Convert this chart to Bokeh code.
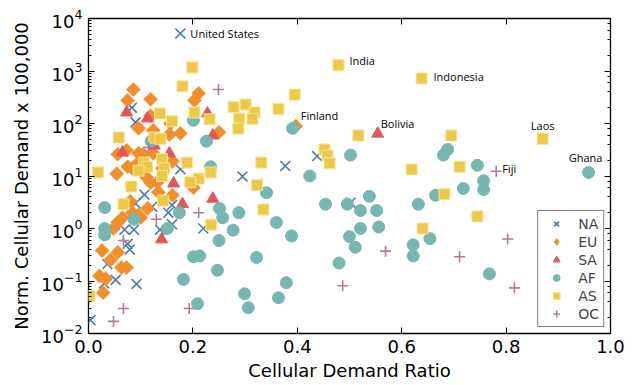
import math
from bokeh.plotting import figure
from bokeh.models import (ColumnDataSource, LogAxis, LinearAxis, FixedTicker, LogTicker,
                          PrintfTickFormatter, CustomJSTickFormatter, Legend, LegendItem, Range1d)
from bokeh.core.properties import value
from bokeh.embed import file_html
from bokeh.resources import INLINE

# ---------------- data ----------------
na_x = [0.176, 0.083, 0.090, 0.107, 0.176, 0.295, 0.377, 0.438, 0.502, 0.090, 0.122, 0.153,
        0.160, 0.160, 0.137, 0.069, 0.087, 0.075, 0.079, 0.036, 0.052, 0.092, 0.030, 0.004, 0.220]
na_y = [5200, 200, 105, 4.4, 13.5, 9.8, 15.5, 24, 3.1, 3.0, 2.6, 2.0,
        2.8, 1.2, 0.95, 0.95, 0.95, 0.51, 0.40, 0.21, 0.105, 0.088, 0.09, 0.018, 1.0]

eu_x = [0.086, 0.075, 0.119, 0.211, 0.203, 0.119, 0.096, 0.124, 0.157, 0.155, 0.176, 0.250, 0.397,
        0.056, 0.073, 0.096, 0.105, 0.124,
        0.054, 0.075, 0.084, 0.092, 0.111, 0.142, 0.161,
        0.132, 0.134, 0.161, 0.201, 0.119,
        0.080, 0.084, 0.096, 0.100, 0.113, 0.065, 0.056, 0.048,
        0.026, 0.056, 0.042, 0.063, 0.073, 0.021, 0.033, 0.028]
eu_y = [445, 275, 290, 375, 275, 140, 81, 74, 100, 62, 65, 68, 89,
        26, 31, 27, 26, 27,
        11, 15, 14, 16.5, 9.5, 14, 19,
        7.6, 4.9, 4.3, 6.0, 7.5,
        3.3, 2.0, 1.8, 1.6, 2.4, 1.6, 1.3, 1.0,
        0.38, 0.35, 0.25, 0.18, 0.18, 0.125, 0.11, 0.06]

sa_x = [0.073, 0.113, 0.228, 0.238, 0.065, 0.126, 0.155, 0.163, 0.180, 0.238, 0.140, 0.554]
sa_y = [162, 125, 155, 59, 28, 38, 27, 7.2, 2.9, 3.7, 0.62, 64]

af_x = [0.201, 0.226, 0.234, 0.391, 0.424, 0.341, 0.120,
        0.502, 0.538, 0.680, 0.688, 0.745, 0.757, 0.757, 0.718, 0.665, 0.958,
        0.454, 0.496, 0.521, 0.552, 0.521, 0.556, 0.500, 0.511, 0.480, 0.632, 0.622, 0.622, 0.654, 0.768,
        0.360, 0.389, 0.379, 0.364,
        0.031, 0.031, 0.031, 0.087, 0.174, 0.151, 0.251, 0.257, 0.288, 0.277, 0.250, 0.201, 0.213,
        0.247, 0.322, 0.182, 0.209, 0.299, 0.306]
af_y = [115, 46, 15, 81, 10, 4.8, 46,
        25, 4.1, 25, 32, 16, 8.1, 5.5, 5.8, 4.3, 11.7,
        2.9, 2.9, 2.2, 2.2, 1.0, 1.07, 0.70, 0.44, 0.22, 2.9, 0.49, 0.30, 0.64, 0.137,
        1.3, 0.72, 0.093, 0.048,
        2.5, 1.0, 0.76, 1.5, 2.0, 1.0, 2.4, 1.6, 2.0, 0.93, 0.59, 0.29, 0.30,
        0.16, 0.28, 0.107, 0.037, 0.057, 0.031]

as_x = [0.199, 0.180, 0.203, 0.232, 0.137, 0.160, 0.278, 0.301, 0.318, 0.314, 0.289, 0.287, 0.364,
        0.395, 0.058, 0.126, 0.138, 0.018, 0.106, 0.112, 0.096, 0.141, 0.145, 0.141, 0.189, 0.234,
        0.211, 0.195, 0.331, 0.323, 0.082,
        0.479, 0.638, 0.517, 0.695, 0.870, 0.452, 0.458, 0.462, 0.619, 0.711, 0.682, 0.745, 0.640,
        0.067, 0.143, 0.335, 0.235, 0.002]
as_y = [1170, 510, 162, 120, 155, 110, 205, 230, 162, 123, 123, 80, 190,
        355, 54, 54, 51, 11.7, 18, 15, 12.6, 21, 14, 10, 18, 11.7,
        8.9, 7.6, 18, 6.7, 6.3,
        1290, 720, 59, 59, 51, 32, 24.5, 17.4, 13.3, 15, 4.5, 1.7, 1.0,
        2.9, 3.4, 2.3, 1.18, 0.052]

oc_x = [0.249, 0.115, 0.781, 0.569, 0.711, 0.803, 0.487, 0.816, 0.067, 0.130, 0.211, 0.067, 0.048, 0.193]
oc_y = [445, 35, 12.3, 0.37, 0.29, 0.63, 0.081, 0.074, 0.59, 1.5, 2.0, 0.03, 0.017, 0.03]

ann_text = ["United States", "India", "Indonesia", "Finland", "Bolivia", "Laos", "Ghana", "Fiji"]
ann_x = [0.176, 0.479, 0.638, 0.397, 0.554, 0.870, 0.958, 0.781]
ann_y = [5200, 1290, 720, 89, 64, 51, 11.7, 12.3]

x_ticks = [0.0, 0.2, 0.4, 0.6, 0.8, 1.0]
# -------------- styles --------------
ann_dx = [10, 11, 12, 5, 3, 0, -3, 6]
ann_dy = [0, -5, -2, -11, -10, -13, -15, -3]
ann_align = ["left", "left", "left", "left", "left", "center", "center", "left"]

TICK_FONT = "DejaVu Sans"

p = figure(width=635, height=385, x_range=Range1d(0, 1), y_range=Range1d(1e-2, 1e4),
           y_axis_type="log", output_backend="svg", toolbar_location=None,
           min_border_left=88, min_border_right=25, min_border_top=18, min_border_bottom=52)
p.grid.visible = False
p.outline_line_color = "black"
p.outline_line_width = 1.3
p.background_fill_color = "white"
p.border_fill_color = "white"

xa = p.xaxis[0]
xa.ticker = FixedTicker(ticks=x_ticks)
xa.formatter = PrintfTickFormatter(format="%.1f")
ya = p.yaxis[0]
for ax in (xa, ya):
    ax.axis_line_color = None
    ax.major_tick_in = 6
    ax.major_tick_out = 0
    ax.minor_tick_in = 3
    ax.minor_tick_out = 0
    ax.major_label_text_font = TICK_FONT
    ax.major_label_text_font_size = "18px"
    ax.major_label_text_color = "black"
    ax.axis_label_text_font = TICK_FONT
    ax.axis_label_text_font_size = "18px"
    ax.axis_label_text_font_style = "normal"
    ax.axis_label_text_color = "black"
xa.minor_tick_line_color = None
xa.axis_label = "Cellular Demand Ratio"
ya.axis_label = "Norm. Cellular Demand x 100,000"
xa.major_label_standoff = 6
ya.major_label_standoff = 6
xa.axis_label_standoff = 4
ya.axis_label_standoff = 6

blank = CustomJSTickFormatter(code="return ''")
ra = LogAxis(ticker=LogTicker(), formatter=blank, axis_line_color=None,
             major_tick_in=6, major_tick_out=0, minor_tick_in=3, minor_tick_out=0)
ta = LinearAxis(ticker=FixedTicker(ticks=x_ticks), formatter=blank, axis_line_color=None,
                major_tick_in=6, major_tick_out=0, minor_tick_line_color=None)
p.add_layout(ra, "right")
p.add_layout(ta, "above")

C_NA, C_EU, C_SA, C_AF, C_AS, C_OC = "#4E79A7", "#F28E2B", "#E15759", "#76B7B2", "#EDC948", "#B07AA1"

r_na = p.scatter(na_x, na_y, marker="x", size=14, line_color=C_NA, line_width=1.6)
r_eu = p.scatter(eu_x, eu_y, marker="square", angle=math.pi / 4, size=10,
                 fill_color=C_EU, line_color=C_EU, line_width=0.5)
r_sa = p.scatter(sa_x, sa_y, marker="triangle", size=12, fill_color=C_SA, line_color=C_SA)
r_af = p.scatter(af_x, af_y, marker="circle", size=12, fill_color=C_AF, line_color=C_AF)
r_as = p.scatter(as_x, as_y, marker="square", size=11, fill_color=C_AS, line_color="#f6e49a",
                 line_width=1)
r_oc = p.scatter(oc_x, oc_y, marker="cross", size=11, line_color=C_OC, line_width=1.6)
# hidden legend-only proxy so the EU key shows a diamond
r_eu_key = p.scatter(eu_x[:1], eu_y[:1], marker="diamond", size=12, fill_color=C_EU,
                     line_color=C_EU)
r_eu_key.visible = False

ann_src = ColumnDataSource(dict(x=ann_x, y=ann_y, t=ann_text, dx=ann_dx, dy=ann_dy, al=ann_align))
p.text(x="x", y="y", text="t", source=ann_src, x_offset="dx", y_offset="dy", text_align="al",
       text_baseline="middle", text_font=value("Open Sans"), text_font_size="11px",
       text_color="black")

legend = Legend(items=[LegendItem(label="NA", renderers=[r_na]),
                       LegendItem(label="EU", renderers=[r_eu_key]),
                       LegendItem(label="SA", renderers=[r_sa]),
                       LegendItem(label="AF", renderers=[r_af]),
                       LegendItem(label="AS", renderers=[r_as]),
                       LegendItem(label="OC", renderers=[r_oc])],
                location="bottom_right")
legend.border_line_color = "black"
legend.border_line_width = 1.5
legend.label_text_font = TICK_FONT
legend.label_text_font_size = "14px"
legend.glyph_width = 28
legend.glyph_height = 17
legend.label_height = 17
legend.spacing = 1
legend.padding = 4
legend.margin = 6
legend.label_standoff = 8
legend.background_fill_alpha = 1
p.add_layout(legend)

open("out.html", "w").write(file_html(p, INLINE))
